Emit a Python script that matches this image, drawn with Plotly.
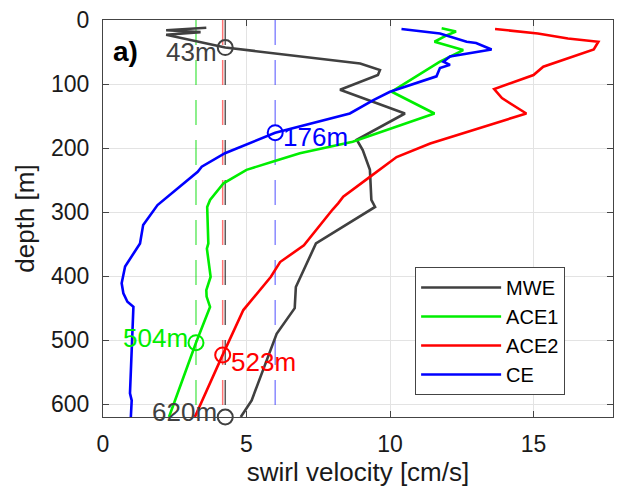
import plotly.graph_objects as go

# ---------------- data ----------------
series_names = ["MWE", "ACE1", "ACE2", "CE"]
series_colors = ["#404040", "#00ee00", "#ff0000", "#0000ff"]
dash_colors = ["rgba(40,40,40,0.75)", "rgba(0,220,0,0.6)", "rgba(255,0,0,0.55)", "rgba(60,60,255,0.6)"]

mwe_depth = [12, 16, 19, 23, 43, 57, 68, 78, 86, 109, 146, 187, 203, 234, 281, 292, 349, 417, 450, 490, 594, 620]
mwe_vel = [3.6, 2.2, 3.4, 2.2, 4.26, 6.86, 8.96, 9.65, 9.58, 8.26, 10.52, 8.84, 9.05, 9.3, 9.35, 9.48, 7.42, 6.72, 6.68, 6.05, 5.18, 4.8]

ace1_depth = [13, 18, 24, 34, 47, 65, 112, 146, 190, 208, 221, 234, 255, 281, 292, 330, 349, 357, 401, 422, 432, 448, 504, 620]
ace1_vel = [11.8, 12.3, 11.97, 11.55, 12.55, 11.74, 10.06, 11.55, 8.7, 6.86, 5.93, 5.0, 4.2, 3.73, 3.63, 3.65, 3.67, 3.62, 3.75, 3.6, 3.61, 3.73, 3.24, 2.3]

ace2_depth = [14, 21, 29, 34, 46, 73, 86, 108, 122, 146, 193, 214, 245, 276, 286, 296, 352, 378, 401, 453, 523, 620]
ace2_vel = [13.66, 15.15, 16.2, 17.26, 17.1, 15.34, 15.0, 13.63, 13.9, 14.75, 11.4, 10.23, 9.3, 8.37, 8.2, 8.0, 7.0, 6.17, 5.85, 4.89, 4.17, 3.2]

ce_depth = [14, 21, 34, 36, 46, 57, 65, 70, 75, 88, 112, 125, 146, 176, 208, 229, 237, 289, 320, 349, 385, 411, 427, 440, 448, 526, 583, 594, 620]
ce_vel = [10.4, 11.74, 12.67, 13.0, 13.54, 12.09, 11.86, 12.09, 11.74, 11.62, 10.0, 9.42, 8.6, 6.0, 4.25, 3.44, 3.3, 1.9, 1.4, 1.29, 0.77, 0.65, 0.71, 0.85, 1.06, 1.0, 0.94, 1.0, 0.97]

mean_vel = [4.26, 3.24, 4.17, 6.0]   # MWE, ACE1, ACE2, CE

mark_series = [0, 0, 1, 2, 3]
mark_depth = [43, 620, 504, 523, 176]
mark_labels = ["43m", "620m", "504m", "523m", "176m"]
mark_side = ["left", "left", "left", "right", "right"]

x_ticks = [0, 5, 10, 15]
y_ticks = [0, 100, 200, 300, 400, 500, 600]
x_max = 17.77
depth_max = 620

depths = [mwe_depth, ace1_depth, ace2_depth, ce_depth]
vels = [mwe_vel, ace1_vel, ace2_vel, ce_vel]

FONT = "Liberation Sans, Arial, Helvetica, sans-serif"

fig = go.Figure()

# dashed mean lines
for i in range(4):
    fig.add_trace(go.Scatter(
        x=[mean_vel[i], mean_vel[i]], y=[0, depth_max], mode="lines",
        line=dict(color=dash_colors[i], width=1.5, dash="25px,15px"),
        showlegend=False, hoverinfo="skip"))

# profiles
for i in range(4):
    fig.add_trace(go.Scatter(
        x=vels[i], y=depths[i], mode="lines", name=series_names[i],
        line=dict(color=series_colors[i], width=2.6)))

# crossing markers
for k in range(len(mark_depth)):
    s = mark_series[k]
    fig.add_trace(go.Scatter(
        x=[mean_vel[s]], y=[mark_depth[k]], mode="markers",
        marker=dict(symbol="circle-open", size=15, color=series_colors[s], line=dict(width=2)),
        showlegend=False, cliponaxis=False, hoverinfo="skip"))
    left = mark_side[k] == "left"
    fig.add_annotation(
        x=mean_vel[s], y=mark_depth[k], text=mark_labels[k], showarrow=False,
        xanchor="right" if left else "left", yanchor="middle",
        xshift=-6 if left else 6, yshift=-4 if mark_depth[k] < 500 else (5 if left else -7),
        font=dict(family=FONT, size=26, color=series_colors[s]))

fig.add_annotation(
    xref="paper", yref="paper", x=0.015, y=0.92, xanchor="left", yanchor="middle",
    text="<b>a)</b>", showarrow=False, font=dict(family=FONT, size=28, color="black"))

axis_common = dict(
    showline=True, mirror="ticks", linecolor="#444", linewidth=1,
    ticks="inside", ticklen=6, tickcolor="#444",
    showgrid=True, gridcolor="#e3e3e3", gridwidth=1, zeroline=False,
    tickfont=dict(family=FONT, size=23, color="#1a1a1a"),
    automargin=False,
)

fig.update_layout(
    width=619, height=499,
    margin=dict(l=103, r=6, t=20, b=82),
    paper_bgcolor="white", plot_bgcolor="white",
    font=dict(family=FONT),
    xaxis=dict(range=[0, x_max], tickvals=x_ticks, ticklabelstandoff=6,
               title=dict(text="swirl velocity [cm/s]", font=dict(family=FONT, size=26, color="#1a1a1a"), standoff=2),
               **axis_common),
    yaxis=dict(range=[depth_max, 0], tickvals=y_ticks, ticklabelstandoff=8,
               title=dict(text="depth [m]", font=dict(family=FONT, size=26, color="#1a1a1a"), standoff=8),
               **axis_common),
    legend=dict(x=0.612, y=0.378, xanchor="left", yanchor="top",
                bordercolor="#444", borderwidth=1, bgcolor="white",
                font=dict(family=FONT, size=20, color="black"),
                itemwidth=80, tracegroupgap=0),
)

fig.write_html("out.html", config={"displayModeBar": False},
               post_script="document.body.style.margin='0';document.body.style.padding='0';")
